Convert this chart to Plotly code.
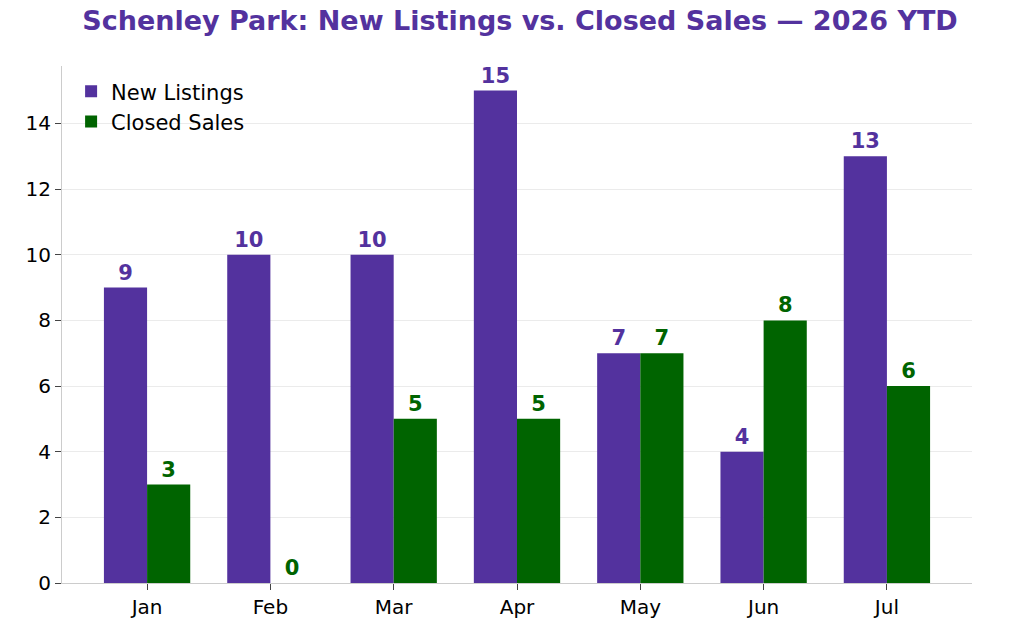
import plotly.graph_objects as go

months = ["Jan", "Feb", "Mar", "Apr", "May", "Jun", "Jul"]
new_listings = [9, 10, 10, 15, 7, 4, 13]
closed_sales = [3, 0, 5, 5, 7, 8, 6]

purple = "#53329E"
green = "#006400"

fig = go.Figure()
fig.add_trace(go.Bar(
    x=months, y=new_listings, name="New Listings", marker_color=purple,
    marker_line_width=0,
    text=new_listings, textposition="outside", cliponaxis=False,
    textfont=dict(color=purple, size=21, family="DejaVu Sans", weight="bold"),
))
fig.add_trace(go.Bar(
    x=months, y=closed_sales, name="Closed Sales", marker_color=green,
    marker_line_width=0,
    text=closed_sales, textposition="outside", cliponaxis=False,
    textfont=dict(color=green, size=21, family="DejaVu Sans", weight="bold"),
))

fig.update_layout(
    width=1024, height=639,
    barmode="group", bargap=0.3, bargroupgap=0,
    plot_bgcolor="white", paper_bgcolor="white",
    font=dict(family="DejaVu Sans", size=20, color="black"),
    title=dict(text="<b>Schenley Park: New Listings vs. Closed Sales — 2026 YTD</b>",
               x=0.5, xanchor="center", y=0.995, yanchor="top",
               font=dict(size=27, color=purple)),
    margin=dict(l=54, r=60, t=58, b=64),
    legend=dict(x=0.01, y=0.99, xanchor="left", yanchor="top",
                bgcolor="rgba(255,255,255,0)", font=dict(size=21)),
    xaxis=dict(range=[-0.69, 6.69], showline=True, linecolor="#cccccc",
               ticks="outside", ticklen=6, tickcolor="#444"),
    yaxis=dict(range=[0, 15.75], dtick=2, showline=True, linecolor="#cccccc",
               ticks="outside", ticklen=6, tickcolor="#444",
               showgrid=True, gridcolor="#ebebeb", zeroline=False),
)
fig.update_traces(textangle=0)

fig.write_html("out.html")
